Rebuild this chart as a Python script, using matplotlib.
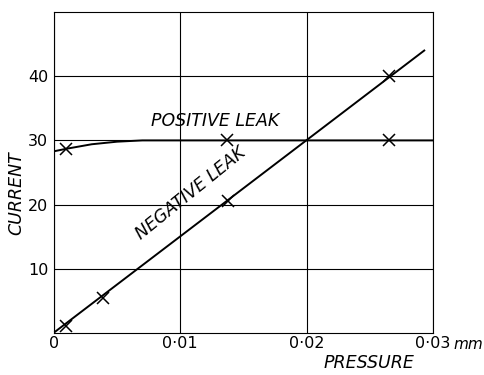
import matplotlib
matplotlib.use("Agg")
import matplotlib.pyplot as plt
import matplotlib.transforms as mtransforms

# Data
pos_x = [0.001, 0.0137, 0.0265]
pos_y = [28.6, 30.0, 30.0]
pos_curve_x = [0.0, 0.001, 0.003, 0.005, 0.007, 0.030]
pos_curve_y = [28.3, 28.7, 29.4, 29.8, 30.0, 30.0]

neg_x = [0.001, 0.0039, 0.0138, 0.0265]
neg_y = [1.1, 5.5, 20.6, 40.0]
neg_line_x = [0.0001, 0.0293]
neg_line_y = [0.2, 44.0]

xticks = [0, 0.01, 0.02, 0.03]
xticklabels = ["0", "0·01", "0·02", "0·03"]
yticks = [10, 20, 30, 40]
yticklabels = ["10", "20", "30", "40"]

plt.rcParams['font.family'] = ['DejaVu Sans']

fig = plt.figure(figsize=(4.85, 3.75), dpi=100)
ax = fig.add_axes([0.111, 0.112, 0.782, 0.856])
ax.set_xlim(0, 0.03)
ax.set_ylim(0, 50)

ax.set_xticks(xticks)
ax.set_xticklabels(xticklabels, fontsize=11.5)
ax.set_yticks(yticks)
ax.set_yticklabels(yticklabels, fontsize=11.5)
ax.tick_params(axis='x', length=0, pad=2)
ax.tick_params(axis='y', length=0, pad=4)
ax.grid(True, color='black', linewidth=0.8)
for s in ax.spines.values():
    s.set_linewidth(0.8)

ax.plot(pos_curve_x, pos_curve_y, color='black', lw=1.4)
ax.plot(pos_x, pos_y, 'x', color='black', ms=9, mew=1.1)
ax.plot(neg_line_x, neg_line_y, color='black', lw=1.4, clip_on=False)
ax.plot(neg_x, neg_y, 'x', color='black', ms=9, mew=1.1)

ax.text(0.0077, 31.6, "POSITIVE LEAK", fontsize=12.5, style='italic', ha='left', va='bottom')
ax.text(0.0108, 21.8, "NEGATIVE LEAK", fontsize=12.5, style='italic', ha='center', va='center', rotation=39)

trans = mtransforms.blended_transform_factory(ax.transData, ax.transAxes)
ax.text(0.0316, -0.012, "mm", fontsize=11, style='italic', ha='left', va='top', transform=trans, clip_on=False)

ax.set_xlabel("PRESSURE", fontsize=12.5, style='italic')
ax.xaxis.set_label_coords(0.83, -0.065)
ax.set_ylabel("CURRENT", fontsize=12.5, style='italic')
ax.yaxis.set_label_coords(-0.075, 0.435)

fig.savefig("out.png", dpi=100)
